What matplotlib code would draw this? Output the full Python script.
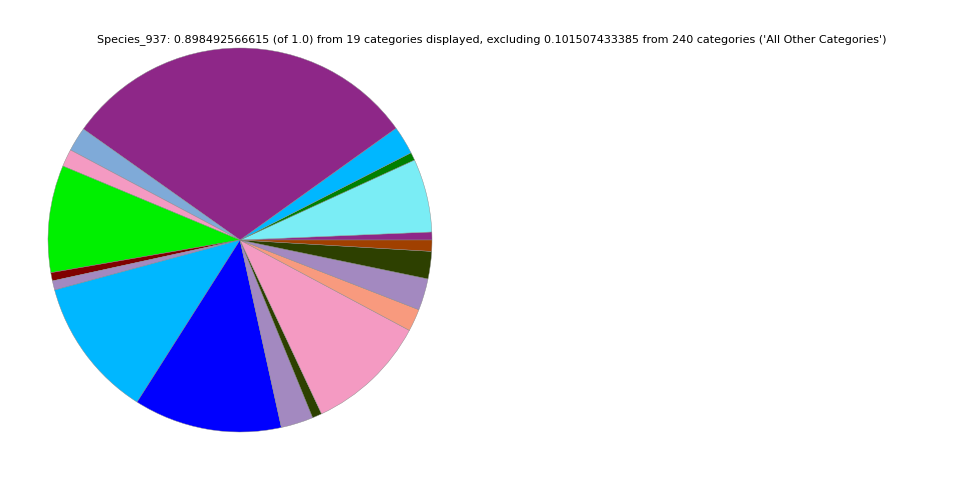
import matplotlib
matplotlib.use("Agg")
import matplotlib.pyplot as plt

title = ("Species_937: 0.898492566615 (of 1.0) from 19 categories displayed, "
         "excluding 0.101507433385 from 240 categories ('All Other Categories')")

values = [0.00599, 0.05553, 0.00599, 0.02146, 0.27242, 0.01834, 0.01323,
          0.08112, 0.00624, 0.00699, 0.10607, 0.11206, 0.02446, 0.00724,
          0.09185, 0.01697, 0.02396, 0.02072, 0.00849]
colors = ["#8E2788", "#7AEDF5", "#008000", "#00B7FF", "#8E2788", "#7FAAD8",
          "#F49AC2", "#00F000", "#800000", "#A389C0", "#00B7FF", "#0000FF",
          "#A389C0", "#2D4000", "#F49AC2", "#F89A7E", "#A389C0", "#2D4000",
          "#A04000"]

fig = plt.figure(figsize=(9.6, 4.8), dpi=100)
ax = fig.add_axes([48/960, 48/480, 384/960, 384/480])
ax.pie(values, colors=colors, startangle=0, counterclock=True,
       wedgeprops=dict(linewidth=0.3, edgecolor="#888888"))
ax.set_aspect("equal")
ax.set_xlim(-1, 1)
ax.set_ylim(-1, 1)
ax.axis("off")
fig.text(492/960, 1 - 40/480, title, ha="center", va="center", fontsize=8)
fig.savefig("out.png", dpi=100)
